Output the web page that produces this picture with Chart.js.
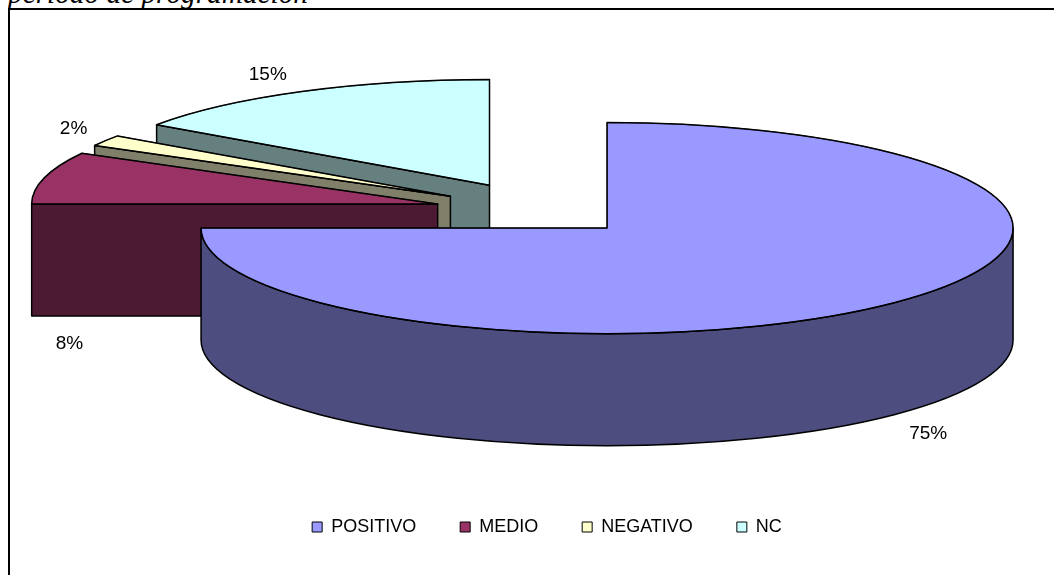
<!DOCTYPE html>
<html lang="es">
<head>
<meta charset="utf-8">
<title>período de programación</title>
<script src="https://cdn.jsdelivr.net/npm/chart.js@4/dist/chart.umd.min.js"></script>
<style>
  html, body { margin: 0; padding: 0; background: #fff; overflow: hidden; }
  #page { position: relative; width: 1054px; height: 575px; overflow: hidden; }
  #caption { position: absolute; left: 8px; top: 0; width: 500px; height: 8px; overflow: hidden; }
  #caption span { position: absolute; left: 0; top: -23px; white-space: nowrap; color: #000;
    font: italic 29.3px "Liberation Serif", serif; line-height: 32px; }
  #frame { position: absolute; left: 8px; top: 8px; right: -10px; bottom: -10px;
    border-top: 2px solid #000; border-left: 2px solid #000; }
  canvas { position: absolute; left: 0; top: 0; }
</style>
</head>
<body>
<div id="page">
  <div id="caption"><span>período de programación</span></div>
  <div id="frame"></div>
  <canvas id="pieChart" width="1054" height="575"></canvas>
</div>
<script>
// ---- DATA ----
const categories = ['POSITIVO', 'MEDIO', 'NEGATIVO', 'NC'];
const values = [75, 8, 1.7, 15.3];
const topColors = ['#9999ff', '#993366', '#ffffcc', '#ccffff'];
const wallColors = ['#4d4d80', '#4d1a33', '#80806a', '#668080'];

// ---- 3D PIE LOOK ----
const pieLook = {
  cx: 541.3, cy: 211,
  squash: 0.26,
  depth: 112,
  explode: [93, 107, 107, 112],
  labelNudge: [[34, 131], [25, 166], [-32, -12], [-34, -17]]
};

const pie3d = {
  id: 'pie3d',
  beforeDatasetDraw(chart) {
    const ctx = chart.ctx;
    const arcs = chart.getDatasetMeta(0).data;
    const { cx, cy, squash, depth, explode, labelNudge } = pieLook;

    // back to front, so the big slice ends up on top
    for (let i = arcs.length - 1; i >= 0; i--) {
      const arc = arcs[i];
      const r = arc.outerRadius;
      const ry = r * squash;
      const start = arc.startAngle;
      const end = arc.endAngle;
      const mid = (start + end) / 2;
      const x = cx + Math.cos(mid) * explode[i];
      const y = cy + Math.sin(mid) * explode[i] * squash;

      ctx.save();
      ctx.fillStyle = wallColors[i];
      ctx.strokeStyle = '#000';
      ctx.lineWidth = 1.5;
      ctx.lineJoin = 'round';

      // flat cut faces that look towards the viewer
      [start, end].forEach((a, n) => {
        const facing = n === 0 ? Math.cos(a) < -1e-6 : Math.cos(a) > 1e-6;
        if (!facing) return;
        const rimX = x + Math.cos(a) * r;
        const rimY = y + Math.sin(a) * ry;
        ctx.beginPath();
        ctx.moveTo(x, y);
        ctx.lineTo(rimX, rimY);
        ctx.lineTo(rimX, rimY + depth);
        ctx.lineTo(x, y + depth);
        ctx.closePath();
        ctx.fill();
        ctx.stroke();
      });

      // curved outer wall, front half only
      const a0 = Math.max(start, 0);
      const a1 = Math.min(end, Math.PI);
      if (a0 < a1) {
        ctx.beginPath();
        ctx.ellipse(x, y, r, ry, 0, a0, a1);
        ctx.ellipse(x, y + depth, r, ry, 0, a1, a0, true);
        ctx.closePath();
        ctx.fill();
        ctx.stroke();
      }

      // top of the slice: the library's own arc, flattened
      ctx.save();
      ctx.translate(x, y);
      ctx.scale(1, squash);
      ctx.translate(-arc.x, -arc.y);
      arc.draw(ctx);
      ctx.restore();

      ctx.beginPath();
      ctx.moveTo(x, y);
      ctx.ellipse(x, y, r, ry, 0, start, end);
      ctx.closePath();
      ctx.stroke();

      // percent label
      ctx.fillStyle = '#000';
      ctx.font = '19px "Liberation Sans", Arial, sans-serif';
      ctx.textAlign = 'center';
      ctx.textBaseline = 'middle';
      ctx.fillText(Math.round(values[i]) + '%',
        x + Math.cos(mid) * r + labelNudge[i][0],
        y + Math.sin(mid) * ry + labelNudge[i][1]);
      ctx.restore();
    }
    return false;
  }
};

// ---- CHART ----
new Chart(document.getElementById('pieChart'), {
  type: 'pie',
  data: {
    labels: categories,
    datasets: [{
      data: values,
      backgroundColor: topColors,
      borderColor: '#000',
      borderWidth: 1
    }]
  },
  options: {
    responsive: false,
    animation: false,
    radius: 406,
    layout: { padding: { left: 40, bottom: 29 } },
    plugins: {
      tooltip: { enabled: false },
      legend: {
        position: 'bottom',
        labels: {
          boxWidth: 10,
          boxHeight: 10,
          padding: 44,
          color: '#000',
          font: { family: '"Liberation Sans", Arial, sans-serif', size: 18 }
        }
      }
    }
  },
  plugins: [pie3d]
});
</script>
</body>
</html>
